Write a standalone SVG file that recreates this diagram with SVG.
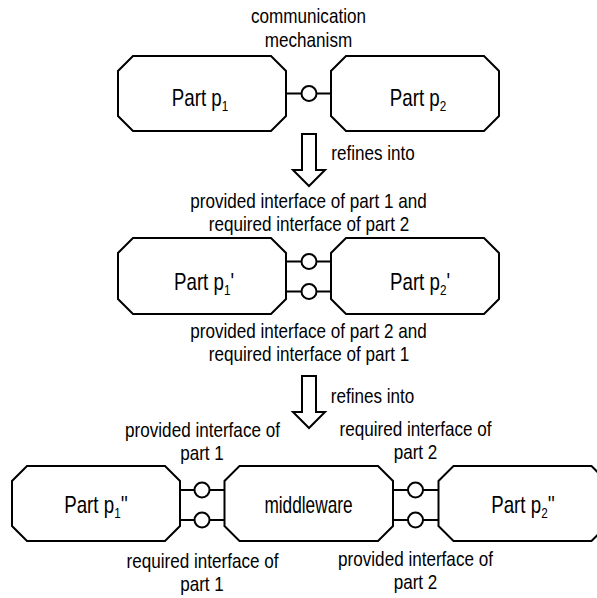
<svg xmlns="http://www.w3.org/2000/svg" width="597" height="598" viewBox="0 0 597 598">
  <style>
    .node { fill: #fff; stroke: #000; stroke-width: 2; stroke-linejoin: miter; }
    .wire { stroke: #000; stroke-width: 2; fill: none; }
    .ball { fill: #fff; stroke: #000; stroke-width: 2; }
    .refine { fill: #fff; stroke: #000; stroke-width: 2; stroke-linejoin: miter; }
    text { font-family: "Liberation Sans", Arial, sans-serif; fill: #000; text-anchor: middle; }
    .lbl { font-size: 20px; }
    .name { font-size: 24px; }
    .mw { font-size: 23px; }
    .sub { font-size: 15px; }
  </style>
  <rect width="597" height="598" fill="#fff"/>

  <!-- top row -->
  <g id="p1">
    <path class="node" d="M133,56 H271 L286,71 V116 L271,131 H133 L118,116 V71 Z"/>
    <text class="name" transform="translate(200,106) scale(0.78,1)">Part p<tspan class="sub" dy="5">1</tspan></text>
  </g>
  <g id="p2">
    <path class="node" d="M346,56 H484 L499,71 V116 L484,131 H346 L331,116 V71 Z"/>
    <text class="name" transform="translate(418,106) scale(0.78,1)">Part p<tspan class="sub" dy="5">2</tspan></text>
  </g>

  <!-- middle row -->
  <g id="p1a">
    <path class="node" d="M133,238 H271 L286,253 V299 L271,314 H133 L118,299 V253 Z"/>
    <text class="name" transform="translate(204,290) scale(0.78,1)">Part p<tspan class="sub" dy="5">1</tspan><tspan dy="-5">'</tspan></text>
  </g>
  <g id="p2a">
    <path class="node" d="M346,238 H484 L499,253 V299 L484,314 H346 L331,299 V253 Z"/>
    <text class="name" transform="translate(420,290) scale(0.78,1)">Part p<tspan class="sub" dy="5">2</tspan><tspan dy="-5">'</tspan></text>
  </g>

  <!-- bottom row -->
  <g id="p1b">
    <path class="node" d="M27,466 H165 L180,481 V526 L165,541 H27 L12,526 V481 Z"/>
    <text class="name" transform="translate(96,513) scale(0.78,1)">Part p<tspan class="sub" dy="5">1</tspan><tspan dy="-5">''</tspan></text>
  </g>
  <g id="middleware">
    <path class="node" d="M239.5,466 H378 L393,481 V526 L378,541 H239.5 L224.5,526 V481 Z"/>
    <text class="mw" transform="translate(308.5,513) scale(0.75,1)">middleware</text>
  </g>
  <g id="p2b">
    <path class="node" d="M453.5,466 H591.5 L606.5,481 V526 L591.5,541 H453.5 L438.5,526 V481 Z"/>
    <text class="name" transform="translate(523,513) scale(0.78,1)">Part p<tspan class="sub" dy="5">2</tspan><tspan dy="-5">''</tspan></text>
  </g>

  <!-- interfaces and refinement arrows -->
  <g id="connectors">
    <line class="wire" x1="286" y1="93.5" x2="331" y2="93.5"/>
    <circle class="ball" cx="309" cy="93.5" r="7.5"/>

    <line class="wire" x1="286" y1="261.5" x2="331" y2="261.5"/>
    <circle class="ball" cx="309" cy="261.5" r="7.5"/>
    <line class="wire" x1="286" y1="291.5" x2="331" y2="291.5"/>
    <circle class="ball" cx="309" cy="291.5" r="7.5"/>

    <line class="wire" x1="180" y1="490" x2="224.5" y2="490"/>
    <circle class="ball" cx="202" cy="490" r="7.5"/>
    <line class="wire" x1="180" y1="520" x2="224.5" y2="520"/>
    <circle class="ball" cx="202" cy="520" r="7.5"/>
    <line class="wire" x1="393" y1="490" x2="438.5" y2="490"/>
    <circle class="ball" cx="415.5" cy="490" r="7.5"/>
    <line class="wire" x1="393" y1="520" x2="438.5" y2="520"/>
    <circle class="ball" cx="415.5" cy="520" r="7.5"/>

    <polygon class="refine" points="302,134 316,134 316,170 325,170 309,186 293,170 302,170"/>
    <polygon class="refine" points="302,376 316,376 316,412 325,412 309,428 293,412 302,412"/>
  </g>

  <!-- labels -->
  <g class="lbl">
    <text transform="translate(308.5,23) scale(0.855,1)">communication</text>
    <text transform="translate(308.5,47) scale(0.855,1)">mechanism</text>

    <text transform="translate(373,160) scale(0.855,1)">refines into</text>
    <text transform="translate(308.5,208) scale(0.855,1)">provided interface of part 1 and</text>
    <text transform="translate(309,231) scale(0.855,1)">required interface of part 2</text>

    <text transform="translate(308.5,338) scale(0.855,1)">provided interface of part 2 and</text>
    <text transform="translate(309,361) scale(0.855,1)">required interface of part 1</text>
    <text transform="translate(372.5,403) scale(0.855,1)">refines into</text>

    <text transform="translate(202.5,437) scale(0.855,1)">provided interface of</text>
    <text transform="translate(202,460) scale(0.855,1)">part 1</text>
    <text transform="translate(415.5,436) scale(0.855,1)">required interface of</text>
    <text transform="translate(415.5,459) scale(0.855,1)">part 2</text>

    <text transform="translate(202.5,568) scale(0.855,1)">required interface of</text>
    <text transform="translate(202,591) scale(0.855,1)">part 1</text>
    <text transform="translate(415.5,566) scale(0.855,1)">provided interface of</text>
    <text transform="translate(415.5,589) scale(0.855,1)">part 2</text>
  </g>
</svg>
